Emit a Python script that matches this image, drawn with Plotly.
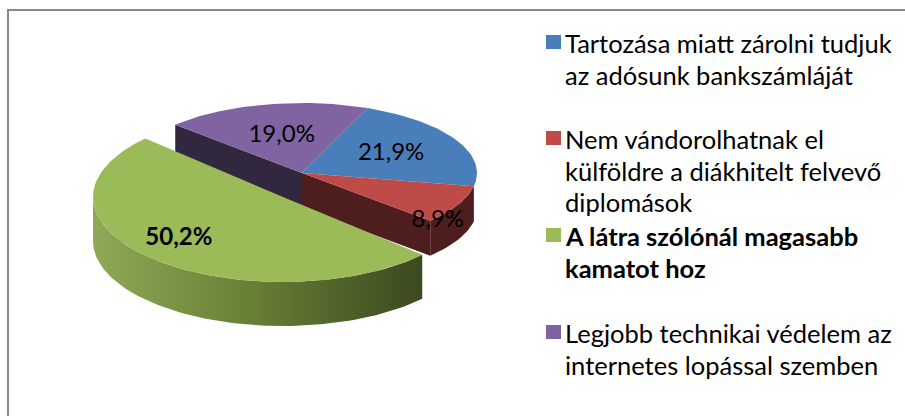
import numpy as np
import plotly.graph_objects as go

# ---------------- data ----------------
categories = [
    "Tartozása miatt zárolni tudjuk az adósunk bankszámláját",
    "Nem vándorolhatnak el külföldre a diákhitelt felvevő diplomások",
    "A látra szólónál magasabb kamatot hoz",
    "Legjobb technikai védelem az internetes lopással szemben",
]
values = [21.9, 8.9, 50.2, 19.0]
legend_lines = [
    ["Tartozása miatt zárolni tudjuk", "az adósunk bankszámláját"],
    ["Nem vándorolhatnak el", "külföldre a diákhitelt felvevő", "diplomások"],
    ["A látra szólónál magasabb", "kamatot hoz"],
    ["Legjobb technikai védelem az", "internetes lopással szemben"],
]
bold_item = [False, False, True, False]

# ---------------- style ----------------
W, H = 905, 416
top_colors = ["#4a7ebb", "#be4b48", "#9bbb59", "#8064a2"]
side_colors = ["#2c4b73", "#4e1e1f", None, "#31273f"]
green_side_scale = [[0, "#8ea958"], [0.45, "#6a8236"], [1, "#3b4920"]]
start_angle = 22.0
# geometry of each slice (center x, center y, radius x, radius y, depth)
base_geom = (302, 173, 175, 70, 35)
geom = [base_geom, base_geom, (283, 197, 190, 85, 44), base_geom]
label_style = [(0.58, 0), (0.87, 20), (0.8, -8), (0.55, 1)]
FONT = "Lato"

# ---------------- helpers ----------------
def arc(cx, cy, rx, ry, a0, a1, dz=0, n=None):
    if n is None:
        n = max(2, int(abs(a1 - a0) / 1.5) + 2)
    t = np.radians(np.linspace(a0, a1, n))
    return cx + rx * np.sin(t), cy - ry * np.cos(t) + dz

def poly(xs, ys, color, **kw):
    return go.Scatter(x=list(xs), y=list(ys), mode="lines", fill="toself",
                      fillcolor=color, line=dict(width=0), hoverinfo="skip",
                      showlegend=False, **kw)

total = sum(values)
angles = []
a = start_angle
for v in values:
    b = a + v / total * 360.0
    angles.append((a, b))
    a = b

fig = go.Figure()

def cut_face(i, ang):
    cx, cy, rx, ry, d = geom[i]
    ex, ey = arc(cx, cy, rx, ry, ang, ang, n=1)
    xs = [cx, ex[0], ex[0], cx]
    ys = [cy, ey[0], ey[0] + d, cy + d]
    return poly(xs, ys, side_colors[i])

def curved_side(i, a0, a1, color=None, grad=None):
    cx, cy, rx, ry, d = geom[i]
    lo, hi = max(a0, 90), min(a1, 270)
    if hi <= lo:
        return None
    tx, ty = arc(cx, cy, rx, ry, lo, hi)
    bx, by = arc(cx, cy, rx, ry, hi, lo, dz=d)
    xs = np.concatenate([tx, bx])
    ys = np.concatenate([ty, by])
    if grad is not None:
        return go.Scatter(x=list(xs), y=list(ys), mode="lines", fill="toself",
                          fillgradient=dict(type="horizontal", colorscale=grad),
                          line=dict(width=0), hoverinfo="skip", showlegend=False)
    return poly(xs, ys, color)

def top_face(i):
    cx, cy, rx, ry, d = geom[i]
    a0, a1 = angles[i]
    tx, ty = arc(cx, cy, rx, ry, a0, a1)
    xs = np.concatenate([[cx], tx, [cx]])
    ys = np.concatenate([[cy], ty, [cy]])
    return poly(xs, ys, top_colors[i])

# ---- back group (unexploded slices): visible cut faces, front side, tops ----
fig.add_trace(cut_face(3, angles[3][0]))
fig.add_trace(cut_face(1, angles[1][1]))
tr = curved_side(1, *angles[1], color=side_colors[1])
if tr is not None:
    fig.add_trace(tr)
for i in (3, 0, 1):
    fig.add_trace(top_face(i))

# ---- exploded green slice ----
tr = curved_side(2, *angles[2], grad=green_side_scale)
if tr is not None:
    fig.add_trace(tr)
fig.add_trace(top_face(2))

# ---- data labels ----
lx, ly, lt = [], [], []
for i, v in enumerate(values):
    cx, cy, rx, ry, d = geom[i]
    f, dy = label_style[i]
    mid = (angles[i][0] + angles[i][1]) / 2
    px, py = arc(cx, cy, rx * f, ry * f, mid, mid, n=1)
    lx.append(px[0])
    ly.append(py[0] + dy)
    s = f"{v:.1f}".replace(".", ",") + "%"
    lt.append(f"<b>{s}</b>" if bold_item[i] else s)
fig.add_trace(go.Scatter(x=lx, y=ly, mode="text", text=lt,
                         textfont=dict(family=FONT, size=24, color="black"),
                         hoverinfo="skip", showlegend=False))

# ---------------- legend (text + colour keys) ----------------
legend_first_y = [42, 138, 235, 332]
line_gap = 31.5
key_x, text_x = 546, 563
annotations = []
shapes = []
for i, lines in enumerate(legend_lines):
    y0 = legend_first_y[i]
    shapes.append(dict(type="rect", xref="x", yref="y", x0=key_x, x1=key_x + 15,
                       y0=y0 - 7, y1=y0 + 7, fillcolor=top_colors[i],
                       line=dict(width=0)))
    for k, ln in enumerate(lines):
        txt = f"<b>{ln}</b>" if bold_item[i] else ln
        annotations.append(dict(x=text_x, y=y0 + k * line_gap + 1, xref="x", yref="y",
                                text=txt, showarrow=False, xanchor="left",
                                yanchor="middle",
                                font=dict(family=FONT, size=25.5, color="black")))

# chart frame
shapes.append(dict(type="rect", xref="x", yref="y", x0=8, x1=W + 20, y0=10, y1=H + 20,
                   line=dict(color="#878787", width=2), fillcolor="rgba(0,0,0,0)",
                   layer="below"))

fig.update_layout(
    width=W, height=H, autosize=False,
    margin=dict(l=0, r=0, t=0, b=0),
    paper_bgcolor="white", plot_bgcolor="white",
    xaxis=dict(range=[0, W], visible=False, fixedrange=True),
    yaxis=dict(range=[H, 0], visible=False, fixedrange=True),
    shapes=shapes, annotations=annotations,
    showlegend=False,
)

fig.write_html("out.html", config={"displayModeBar": False},
               post_script="document.body.style.margin='0';document.body.style.overflow='hidden';")
